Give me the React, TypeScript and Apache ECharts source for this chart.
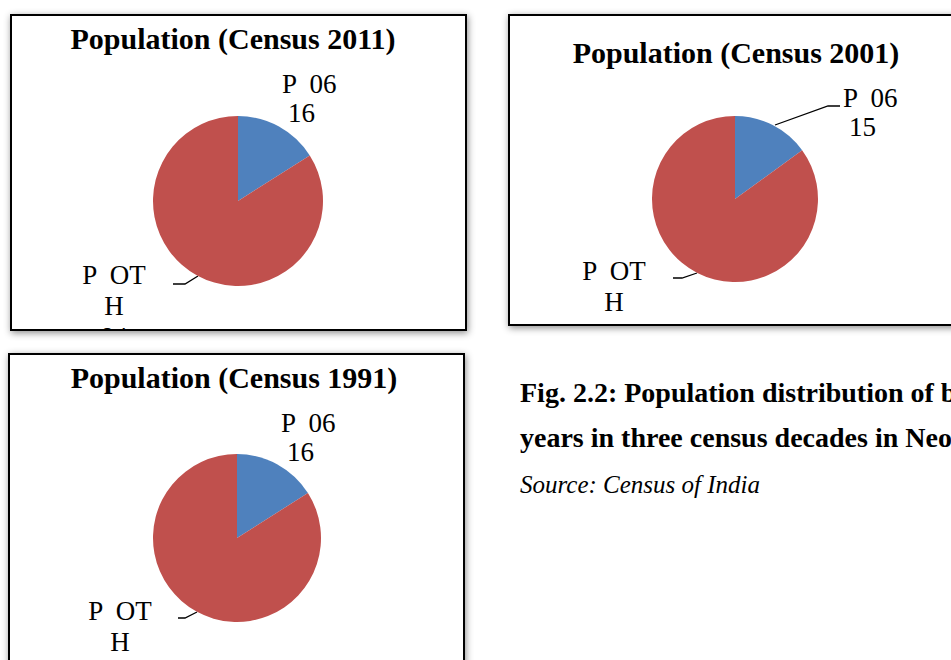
import React, { useEffect, useRef } from 'react';
import * as echarts from 'echarts';

// ---------- data ----------
const years = ['2011', '2001', '1991'];
const categories = ['P  06', 'P  OT\nH'];
const values2011 = [16, 84];
const values2001 = [15, 85];
const values1991 = [16, 84];
const seriesValues = [values2011, values2001, values1991];
const captionLines = [
  'Fig. 2.2: Population distribution of below 6',
  'years in three census decades in Neora Valley',
];
const sourceText = 'Source: Census of India';

// ---------- styles / layout ----------
const SERIF = '"Liberation Serif", "Times New Roman", Times, serif';
const COLORS = ['#4F81BD', '#C0504D'];

type Pt = [number, number];
type LabelPos = { x: number; y: number; line: Pt[] | null };
type Layout = {
  box: { left: number; top: number; width: number; height: number };
  title: { x: number; y: number };
  center: Pt;
  r: number;
  blue: LabelPos;
  red: LabelPos;
};

const layouts: Layout[] = [
  {
    box: { left: 10, top: 14, width: 453, height: 313 },
    title: { x: 221, y: 22 },
    center: [226, 185],
    r: 85,
    blue: { x: 270, y: 53, line: null },
    red: { x: 102, y: 243, line: [[186, 260], [173, 268], [161, 268]] },
  },
  {
    box: { left: 508, top: 14, width: 453, height: 308 },
    title: { x: 226, y: 36 },
    center: [225, 183],
    r: 83,
    blue: { x: 333, y: 67, line: [[265, 109], [318, 90], [330, 90]] },
    red: { x: 104, y: 239, line: [[187, 257], [172, 262], [163, 262]] },
  },
  {
    box: { left: 8, top: 353, width: 453, height: 313 },
    title: { x: 224, y: 22 },
    center: [227, 183],
    r: 84,
    blue: { x: 271, y: 53, line: null },
    red: { x: 110, y: 240, line: [[187, 257], [175, 263], [168, 263]] },
  },
];

function PieBox({ idx }: { idx: number }) {
  const ref = useRef<HTMLDivElement>(null);
  const L = layouts[idx];
  useEffect(() => {
    if (!ref.current) return;
    const chart = echarts.init(ref.current, undefined, { renderer: 'svg' });
    const vals = seriesValues[idx];
    const base = { fontFamily: SERIF, fontSize: 27, color: '#000' };
    chart.setOption({
      animation: false,
      title: {
        text: `Population (Census ${years[idx]})`,
        left: L.title.x,
        top: L.title.y - 15,
        textAlign: 'center',
        padding: 0,
        textStyle: { fontFamily: SERIF, fontSize: 30, fontWeight: 'bold', color: '#000', lineHeight: 30 },
      },
      series: [
        {
          type: 'pie',
          center: L.center,
          radius: L.r,
          startAngle: 90,
          clockwise: true,
          data: categories.map((name, i) => ({
            name,
            value: vals[i],
            itemStyle: { color: COLORS[i] },
            labelLine: { show: !!(i === 0 ? L.blue.line : L.red.line) },
          })),
          label: {
            show: true,
            position: 'outside',
            ...base,
            lineHeight: 30,
            formatter: (p: any) =>
              p.dataIndex === 0
                ? `{a|${p.name}}\n{b|${p.value}}`
                : p.name
                    .split('\n')
                    .map((s: string) => `{c|${s}}`)
                    .join('\n') + `\n{c|${p.value}}`,
            rich: {
              a: { ...base, lineHeight: 29 },
              b: { ...base, lineHeight: 29, padding: [0, 0, 0, 6] },
              c: { ...base, lineHeight: 31 },
            },
          },
          labelLine: { lineStyle: { color: '#000', width: 1.3 }, smooth: false },
          labelLayout: (params: any) => {
            const d = params.dataIndex === 0 ? L.blue : L.red;
            const out: any = {
              x: d.x,
              y: d.y,
              align: params.dataIndex === 0 ? 'left' : 'center',
              verticalAlign: 'top',
            };
            if (d.line) out.labelLinePoints = d.line;
            return out;
          },
        },
      ],
    });
    return () => chart.dispose();
  }, [idx]);
  return (
    <div
      style={{
        position: 'absolute',
        left: L.box.left,
        top: L.box.top,
        width: L.box.width,
        height: L.box.height,
        border: '2px solid #000',
        boxSizing: 'content-box',
        overflow: 'hidden',
        background: '#fff',
        boxShadow: '1px 2px 7px rgba(0,0,0,0.45)',
      }}
    >
      <div ref={ref} style={{ width: L.box.width, height: L.box.height }} />
    </div>
  );
}

function Caption() {
  const ref = useRef<HTMLDivElement>(null);
  useEffect(() => {
    if (!ref.current) return;
    const chart = echarts.init(ref.current, undefined, { renderer: 'svg' });
    chart.setOption({
      animation: false,
      graphic: [
        {
          type: 'text',
          x: 520,
          y: 392,
          style: { text: captionLines[0], fontFamily: SERIF, fontSize: 28, fontWeight: 'bold', fill: '#000', verticalAlign: 'middle' },
        },
        {
          type: 'text',
          x: 520,
          y: 437,
          style: { text: captionLines[1], fontFamily: SERIF, fontSize: 28, fontWeight: 'bold', fill: '#000', verticalAlign: 'middle' },
        },
        {
          type: 'text',
          x: 520,
          y: 484,
          style: { text: sourceText, fontFamily: SERIF, fontSize: 25, fontStyle: 'italic', fill: '#000', verticalAlign: 'middle' },
        },
      ],
    });
    return () => chart.dispose();
  }, []);
  return <div ref={ref} style={{ position: 'absolute', left: 0, top: 0, width: 951, height: 660 }} />;
}

export default function App() {
  return (
    <div
      style={{
        position: 'fixed',
        left: 0,
        top: 0,
        width: 951,
        height: 660,
        overflow: 'hidden',
        background: '#fff',
      }}
    >
      <Caption />
      <PieBox idx={0} />
      <PieBox idx={1} />
      <PieBox idx={2} />
    </div>
  );
}
